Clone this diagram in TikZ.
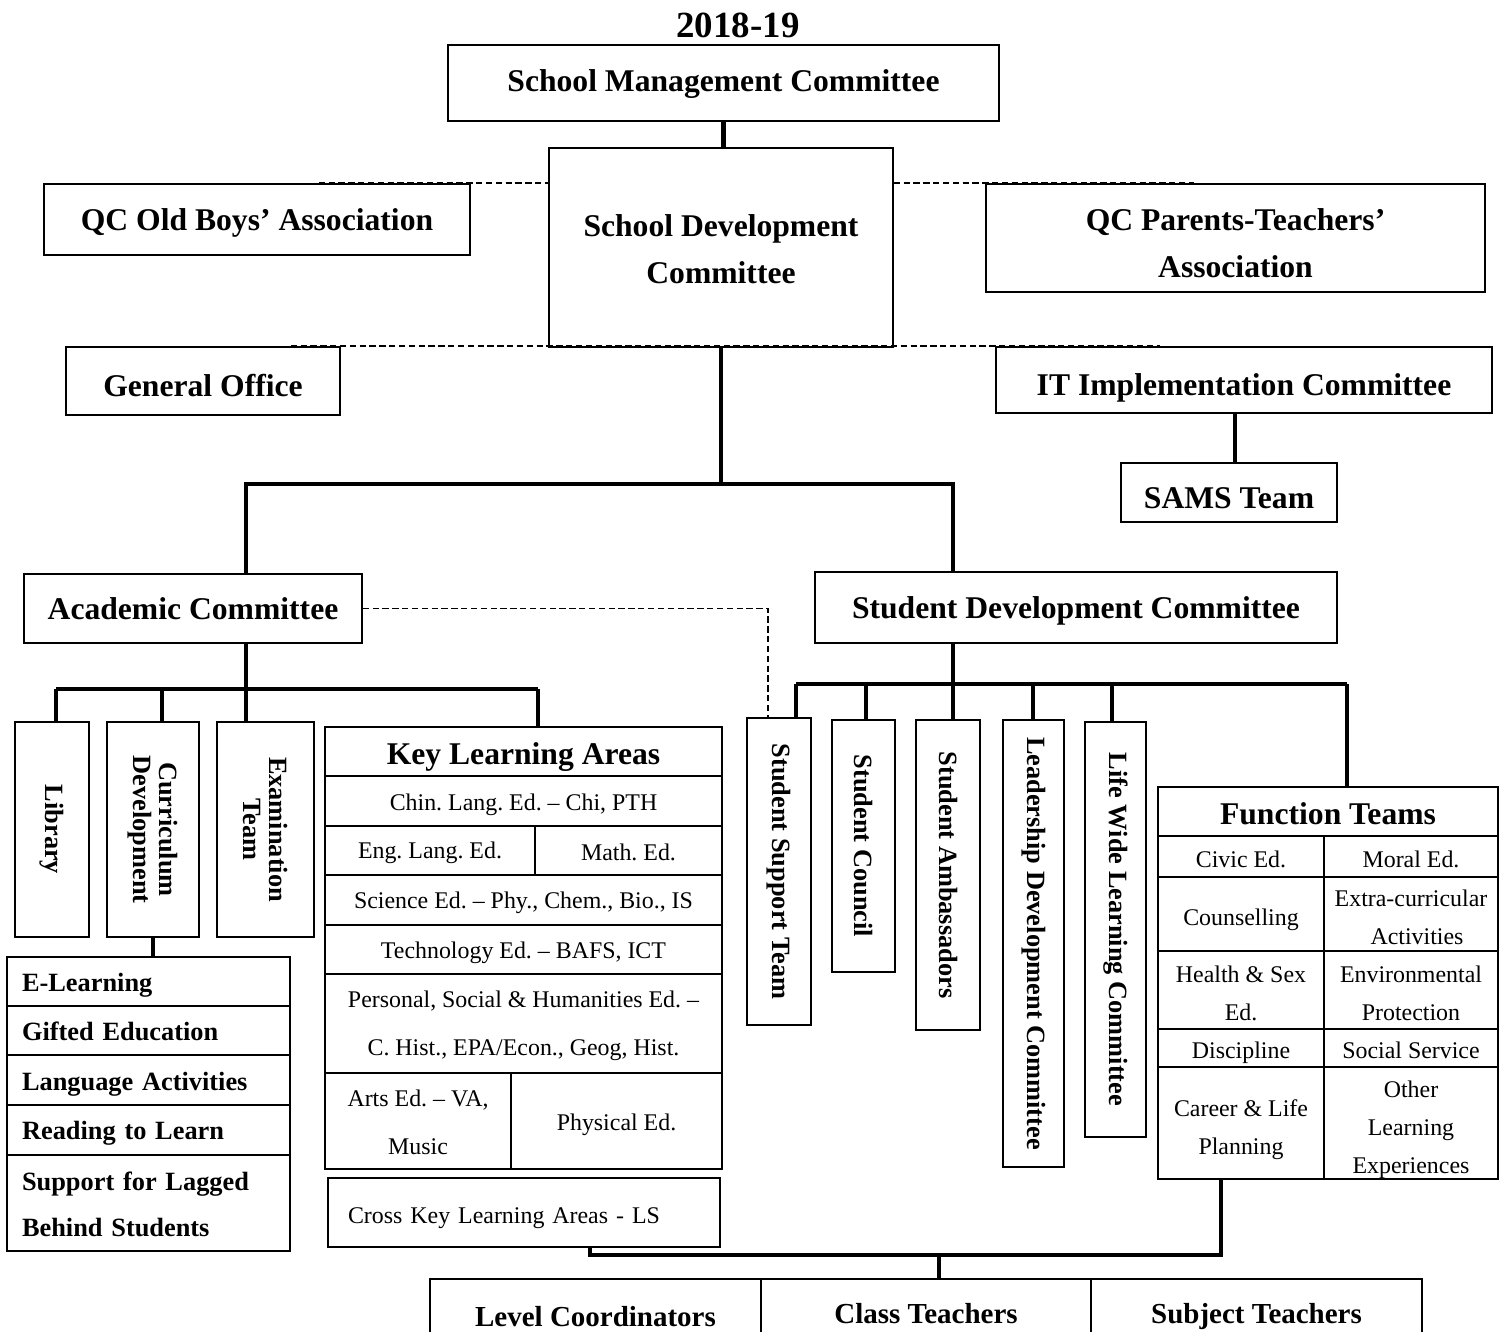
\documentclass[tikz,border=0pt]{standalone}
\usepackage{fontspec}
\setmainfont{Liberation Serif}
\frenchspacing
\usetikzlibrary{calc}
% lower a line of text without changing its box
\newcommand{\lowtext}[2]{\raisebox{-#1}[\height][\depth]{#2}}
\tikzset{
  unit/.style={draw, line width=0.8pt, align=center, inner sep=0pt,
    font=\bfseries\fontsize{18}{27}\selectfont},
  sidebox/.style={draw, line width=0.8pt, rotate=-90, align=center, inner sep=0pt,
    font=\bfseries\fontsize{15}{14.8}\selectfont},
  listrow/.style={draw, line width=1.2pt, align=left, text width=5.06cm,
    inner xsep=0.3cm, inner ysep=0pt, font=\bfseries\fontsize{15}{26.7}\selectfont},
  kcell/.style={draw, line width=1.2pt, align=center, inner sep=0pt,
    font=\fontsize{13.6}{27.3}\selectfont},
  fcell/.style={draw, line width=1.2pt, align=center, inner sep=0pt,
    font=\fontsize{13.6}{21.6}\selectfont},
  staff/.style={draw, line width=0.8pt, align=center, inner sep=0pt,
    minimum width=6.62cm, minimum height=1.44cm,
    font=\bfseries\fontsize{16.5}{20}\selectfont},
  link/.style={line width=2.3pt},
  dashline/.style={line width=1.1pt, dash pattern=on 3.6pt off 2pt}
}

\begin{document}
\begin{tikzpicture}[x=0.02cm, y=-0.02cm]
  \useasboundingbox (0,0) rectangle (1502,1332);
  \clip (0,0) rectangle (1502,1332);

  % top part
  \node[font=\bfseries\fontsize{21}{25}\selectfont] (year) at (738,25) {2018-19};
  \node[unit, minimum width=11.02cm, minimum height=1.52cm] (smc) at (723.5,83) {\lowtext{0.6pt}{School Management Committee}};
  \node[unit, minimum width=6.88cm, minimum height=3.98cm] (sdc) at (721,247.5) {\lowtext{1.1pt}{School Development}\\\lowtext{1.1pt}{Committee}};
  \node[unit, minimum width=8.52cm, minimum height=1.42cm] (oba) at (257,219.5) {\lowtext{1.7pt}{QC Old Boys’ Association}};
  \node[unit, minimum width=9.98cm, minimum height=2.16cm] (pta) at (1235.5,238) {\lowtext{2.8pt}{QC Parents-Teachers’}\\\lowtext{2.8pt}{Association}};
  \node[unit, minimum width=5.48cm, minimum height=1.36cm] (go) at (203,381) {\lowtext{2.3pt}{General Office}};
  \node[unit, minimum width=9.92cm, minimum height=1.32cm] (itc) at (1244,380) {\lowtext{4.4pt}{IT Implementation Committee}};
  \node[unit, minimum width=4.32cm, minimum height=1.18cm] (sams) at (1229,492.5) {\lowtext{3.4pt}{SAMS Team}};
  \node[unit, minimum width=6.76cm, minimum height=1.38cm] (acad) at (193,608.5) {Academic Committee};
  \node[unit, minimum width=10.44cm, minimum height=1.42cm] (sdev) at (1076,607.5) {\lowtext{1.7pt}{Student Development Committee}};

  % academic side
  \node[sidebox, minimum width=4.30cm, minimum height=1.48cm] (lib) at (52,829.5) {Library};
  \node[sidebox, minimum width=4.30cm, minimum height=1.84cm] (curr) at (153,829.5) {Curriculum\\Development};
  \node[sidebox, minimum width=4.30cm, minimum height=1.94cm] (exam) at (265.5,829.5) {Examination\\Team};

  \node[listrow, minimum height=0.98cm] (elearn) at (148.5,981.5) {\lowtext{2.3pt}{E-Learning}};
  \node[listrow, minimum height=0.98cm] (gifted) at (148.5,1030.5) {\lowtext{0.6pt}{Gifted Education}};
  \node[listrow, minimum height=1.00cm] (langact) at (148.5,1080) {\lowtext{2.3pt}{Language Activities}};
  \node[listrow, minimum height=1.00cm] (reading) at (148.5,1130) {\lowtext{1.7pt}{Reading to Learn}};
  \node[listrow, minimum height=1.92cm] (lagged) at (148.5,1203) {\lowtext{0.8pt}{Support for Lagged}\\\lowtext{0.8pt}{Behind Students}};

  \node[kcell, font=\bfseries\fontsize{18}{27}\selectfont, minimum width=7.94cm, minimum height=0.98cm] (kla) at (523.5,751.5) {\lowtext{3.2pt}{Key Learning Areas}};
  \node[kcell, minimum width=7.94cm, minimum height=1.00cm] (chin) at (523.5,801) {\lowtext{2.3pt}{Chin. Lang. Ed. – Chi, PTH}};
  \node[kcell, minimum width=4.20cm, minimum height=0.98cm] (eng) at (430,850.5) {\lowtext{1.1pt}{Eng. Lang. Ed.}};
  \node[kcell, minimum width=3.74cm, minimum height=0.98cm] (math) at (628.5,850.5) {\lowtext{1.1pt}{Math. Ed.}};
  \node[kcell, minimum width=7.94cm, minimum height=1.00cm] (sci) at (523.5,900) {\lowtext{1.7pt}{Science Ed. – Phy., Chem., Bio., IS}};
  \node[kcell, minimum width=7.94cm, minimum height=0.98cm] (tech) at (523.5,949.5) {\lowtext{1.7pt}{Technology Ed. – BAFS, ICT}};
  \node[kcell, minimum width=7.94cm, minimum height=1.98cm] (pshe) at (523.5,1023.5) {\lowtext{1.1pt}{Personal, Social \& Humanities Ed. –}\\\lowtext{1.1pt}{C. Hist., EPA/Econ., Geog, Hist.}};
  \node[kcell, minimum width=3.72cm, minimum height=1.92cm] (arts) at (418,1121) {\lowtext{0.6pt}{Arts Ed. – VA,}\\\lowtext{0.6pt}{Music}};
  \node[kcell, minimum width=4.22cm, minimum height=1.92cm] (pe) at (616.5,1121) {\lowtext{2.3pt}{Physical Ed.}};
  \node[draw, line width=0.8pt, align=left, text width=7.04cm, inner xsep=0.4cm, minimum height=1.38cm,
    font=\fontsize{13.6}{16}\selectfont] (cross) at (524,1212.5) {\lowtext{3.4pt}{Cross Key Learning Areas - LS}};

  % student side
  \node[sidebox, minimum width=6.14cm, minimum height=1.28cm] (sst) at (779,871.5) {Student Support Team};
  \node[sidebox, minimum width=5.04cm, minimum height=1.26cm] (council) at (863.5,846) {Student Council};
  \node[sidebox, minimum width=6.20cm, minimum height=1.28cm] (ambas) at (948,875) {Student Ambassadors};
  \node[sidebox, minimum width=8.94cm, minimum height=1.22cm] (leader) at (1033.5,943.5) {Leadership Development Committee};
  \node[sidebox, minimum width=8.30cm, minimum height=1.22cm] (lifewide) at (1115.5,929.5) {Life Wide Learning Committee};

  \node[fcell, font=\bfseries\fontsize{18}{27}\selectfont, minimum width=6.80cm, minimum height=0.98cm] (ft) at (1328,811.5) {\lowtext{1.1pt}{Function Teams}};
  \node[fcell, minimum width=3.32cm, minimum height=0.82cm] (civic) at (1241,856.5) {\lowtext{1.7pt}{Civic Ed.}};
  \node[fcell, minimum width=3.48cm, minimum height=0.82cm] (moral) at (1411,856.5) {\lowtext{1.7pt}{Moral Ed.}};
  \node[fcell, minimum width=3.32cm, minimum height=1.48cm] (couns) at (1241,914) {\lowtext{3.4pt}{Counselling}};
  \node[fcell, minimum width=3.48cm, minimum height=1.48cm] (eca) at (1411,914) {\lowtext{1.7pt}{Extra-curricular}\\\lowtext{1.7pt}{\hspace{0.5em}Activities}};
  \node[fcell, minimum width=3.32cm, minimum height=1.56cm] (health) at (1241,990) {\lowtext{1.7pt}{Health \& Sex}\\\lowtext{1.7pt}{Ed.}};
  \node[fcell, minimum width=3.48cm, minimum height=1.56cm] (envir) at (1411,990) {\lowtext{1.7pt}{Environmental}\\\lowtext{1.7pt}{Protection}};
  \node[fcell, minimum width=3.32cm, minimum height=0.76cm] (disc) at (1241,1048) {\lowtext{2.8pt}{Discipline}};
  \node[fcell, minimum width=3.48cm, minimum height=0.76cm] (social) at (1411,1048) {\lowtext{1.1pt}{Social Service}};
  \node[fcell, minimum width=3.32cm, minimum height=2.24cm] (career) at (1241,1123) {\lowtext{4pt}{Career \& Life}\\\lowtext{4pt}{Planning}};
  \node[fcell, minimum width=3.48cm, minimum height=2.24cm] (ole) at (1411,1123) {\lowtext{3.6pt}{Other}\\\lowtext{3.6pt}{Learning}\\\lowtext{3.6pt}{Experiences}};

  % teachers
  \node[staff] (level) at (595.5,1315) {\lowtext{1.1pt}{Level Coordinators}};
  \node[staff] (clsteach) at (926,1315) {\lowtext{-0.6pt}{Class Teachers}};
  \node[staff] (subteach) at (1256.5,1315) {\lowtext{1.1pt}{Subject Teachers}};

  % joints
  \coordinate (jTop) at (722,484);
  \coordinate (jA) at (246,484);
  \coordinate (jS) at (953,484);
  \coordinate (dSams) at (1235,463);
  \coordinate (dLib) at (56,689);
  \coordinate (dCurr) at (162,689);
  \coordinate (dExam) at (246,689);
  \coordinate (dKla) at (538,689);
  \coordinate (dSst) at (796,684);
  \coordinate (dCouncil) at (866,684);
  \coordinate (dAmbas) at (953,684);
  \coordinate (dLeader) at (1033,684);
  \coordinate (dLife) at (1112,684);
  \coordinate (dFt) at (1347,684);
  \coordinate (sstA) at (768,718);
  \coordinate (jD) at (590,1255);
  \coordinate (jE) at (1221,1255);
  \coordinate (jF) at (939,1255);

  % solid links
  \draw[link] (smc.south) -- (smc.south |- sdc.north);
  \draw[link] (sdc.south) -- (sdc.south |- jTop);
  \draw[link] (jA |- acad.north) -- (jA) -- (jS) -- (jS |- sdev.north);
  \draw[link] (dSams |- itc.south) -- (dSams);
  \draw[link] (acad.south -| dExam) -- (dExam);
  \draw[link] (dLib) -- (dKla);
  \foreach \d/\n in {dLib/lib, dCurr/curr, dExam/exam}
    \draw[link] (\d) -- (\d |- \n.west);
  \draw[link] (dKla) -- (dKla |- kla.north);
  \draw[link] (curr.east) -- (curr.east |- elearn.north);
  \draw[link] (sdev.south -| dAmbas) -- (dAmbas);
  \draw[link] (dSst) -- (dFt);
  \foreach \d/\n in {dSst/sst, dCouncil/council, dAmbas/ambas, dLeader/leader, dLife/lifewide}
    \draw[link] (\d) -- (\d |- \n.west);
  \draw[link] (dFt) -- (dFt |- ft.north);
  \draw[link] (jD |- cross.south) -- (jD) -- (jE) -- (jE |- career.south);
  \draw[link] (jF) -- (jF |- clsteach.north);

  % dashed links
  \draw[dashline] (oba.north east) ++(-152,0) -- (sdc.west |- oba.north);
  \draw[dashline] (sdc.east |- pta.north) -- ++(300,0);
  \draw[dashline] (go.north east) ++(-50,0) -- ++(869,0);
  \draw[dashline] (acad.east) -| (sstA);
\end{tikzpicture}
\end{document}
